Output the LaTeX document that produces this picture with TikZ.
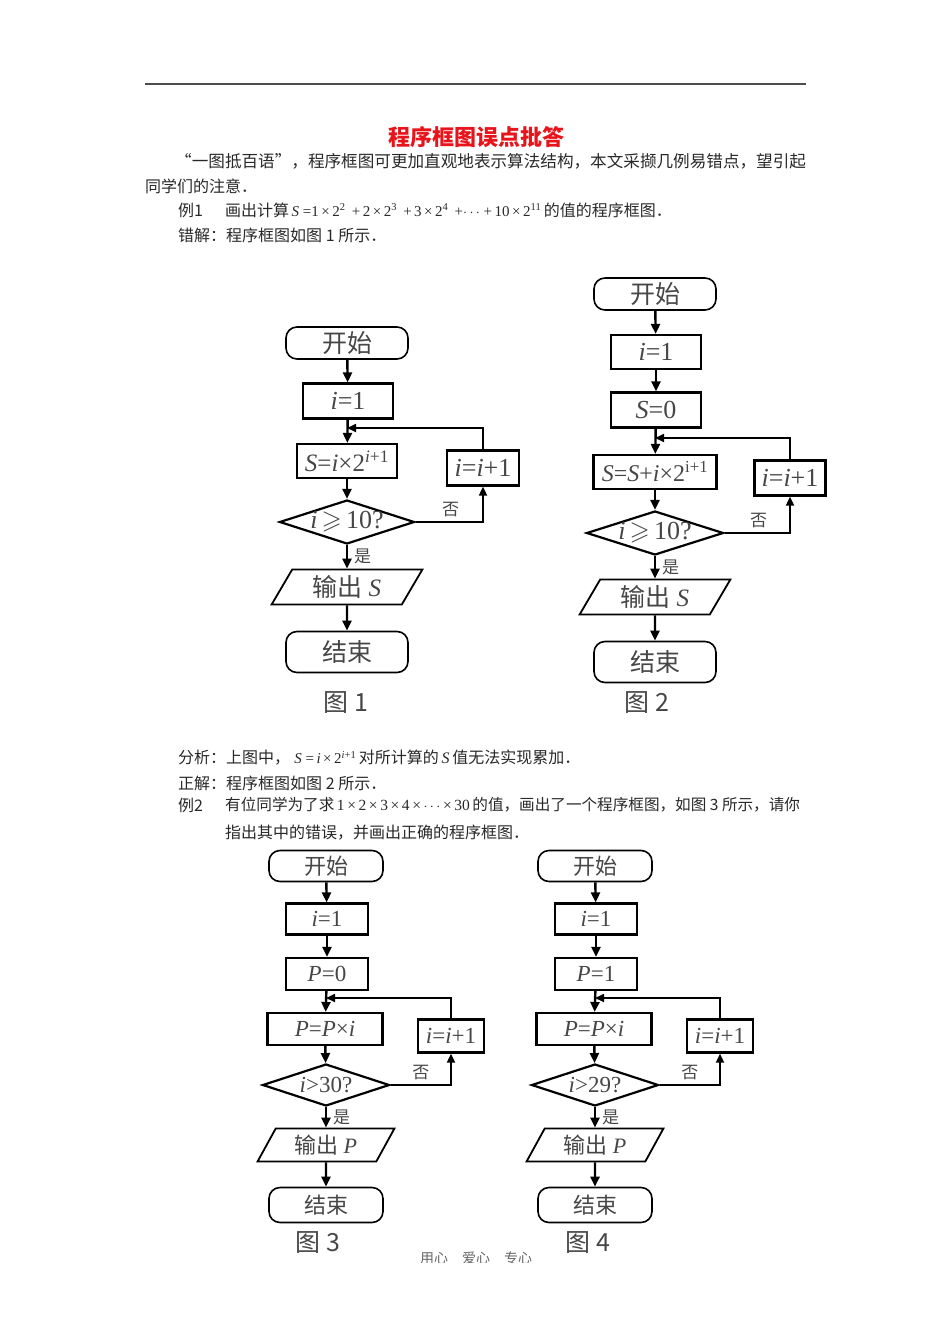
\documentclass[tikz,border=0pt]{standalone}
\usepackage{amssymb}
\usepackage{fontspec}
\setmainfont{Liberation Serif}
\newfontfamily\cjk{Noto Sans CJK SC}
\usetikzlibrary{shapes.geometric, arrows.meta, positioning}
\definecolor{titlered}{RGB}{232,20,27}
\definecolor{chartgray}{RGB}{70,70,70}
\definecolor{bodygray}{RGB}{40,40,40}
\newcommand{\zerobox}[1]{\makebox[0pt]{#1}}
\newcommand{\lat}[1]{{\rmfamily #1}}

\begin{document}
\begin{tikzpicture}[
    x=1pt, y=-1pt,
    every node/.style={inner sep=0pt},
    term/.style n args={2}{rectangle, draw, rounded corners=11pt, line width=1.6pt, minimum width=#1, minimum height=#2, font=\cjk\fontsize{25}{25}\selectfont, text=chartgray},
    procbox/.style n args={2}{rectangle, draw, line width=2.2pt, minimum width=#1, minimum height=#2, font=\fontsize{26}{26}\selectfont, text=chartgray},
    decision/.style n args={2}{diamond, draw, line width=2.2pt, minimum width=#1, minimum height=#2, font=\fontsize{26}{26}\selectfont, text=chartgray},
    io/.style n args={2}{trapezium, trapezium left angle=61, trapezium right angle=119, trapezium stretches, draw, line width=1.8pt, minimum width=#1, minimum height=#2, font=\cjk\fontsize{25}{25}\selectfont, text=chartgray},
    small/.style={font=\cjk\fontsize{22}{22}\selectfont},
    smallmath/.style={font=\fontsize{23}{23}\selectfont},
    flow/.style={-{Triangle[length=10pt,width=9pt]}, line width=2.4pt},
    back/.style={-{Triangle[length=9pt,width=8pt]}, line width=1.7pt},
    tag/.style={font=\cjk\fontsize{17}{17}\selectfont, text=chartgray},
    caption/.style={font=\cjk\fontsize{25}{25}\selectfont, text=chartgray},
    body/.style={anchor=west, font=\cjk\fontsize{16}{16}\selectfont, text=bodygray}
]
\useasboundingbox (0,0) rectangle (950,1344);

% Page header
\draw[line width=1.2pt, black!70] (145,84) -- (806,84);
\node[font=\cjk\bfseries\fontsize{22}{22}\selectfont, text=titlered] (title) at (476,137) {程序框图误点批答};
\node[body, font=\cjk\fontsize{16.6}{16.6}\selectfont] (line1) at (175,161) {“一图抵百语”，程序框图可更加直观地表示算法结构，本文采撷几例易错点，望引起};
\node[body] (line2) at (145,186) {同学们的注意．};
\node[body] (ex1) at (178,210) {例1};
\node[body] (task1) at (225,210) {画出计算\lat{\fontsize{15}{15}\selectfont\,\textit{S} =1\,×\,2\textsuperscript{2} \,+\,2\,×\,2\textsuperscript{3} \,+\,3\,×\,2\textsuperscript{4} \,+$\cdots$ +\,10\,×\,2\textsuperscript{11}}\,的值的程序框图．};
\node[body] (wrong1) at (178,235) {错解：程序框图如图 1 所示．};

% Figure 1
\node[term={122pt}{32pt}] (start1) at (347,343) {开始};
\node[procbox={90pt}{35pt}] (init1) at (348,401) {\textit{i}=1};
\node[procbox={100pt}{34pt}, font=\fontsize{25}{25}\selectfont] (sum1) at (347,461) {\textit{S}=\textit{i}×2\textsuperscript{\textit{i}+1}};
\node[procbox={72pt}{35pt}] (inc1) at (483,468) {\textit{i}=\textit{i}+1};
\node[decision={135pt}{44pt}] (test1) at (347,522) {\zerobox{\textit{i}$\,\geqslant\,$10?}};
\node[io={152pt}{35pt}] (out1) at (347,587) {输出 \lat{\textit{S}}};
\node[term={122pt}{41pt}] (stop1) at (347,652) {结束};
\node[caption] (cap1) at (346,703) {图 1};
\coordinate (join1) at (347,428);

\draw[flow] (start1) -- (init1);
\draw[flow] (init1) -- (sum1);
\draw[flow] (sum1) -- (test1);
\draw[flow] (test1) -- node[tag, right=6pt] {是} (out1);
\draw[flow] (out1) -- (stop1);
\draw[back] (test1.east) -| node[tag, pos=0.26, above=4pt] {否} (inc1.south);
\draw[back] (inc1.north) |- (join1);

% Figure 2
\node[term={122pt}{32pt}] (start2) at (655,294) {开始};
\node[procbox={90pt}{34pt}] (init2) at (656,352) {\textit{i}=1};
\node[procbox={90pt}{35pt}] (zero2) at (656,410) {\textit{S}=0};
\node[procbox={123pt}{34pt}, font=\fontsize{24}{24}\selectfont] (sum2) at (655,472) {\textit{S}=\textit{S}+\textit{i}×2\textsuperscript{i+1}};
\node[procbox={71pt}{35pt}] (inc2) at (790,478) {\textit{i}=\textit{i}+1};
\node[decision={137pt}{44pt}] (test2) at (655,533) {\zerobox{\textit{i}$\,\geqslant\,$10?}};
\node[io={152pt}{35pt}] (out2) at (655,597) {输出 \lat{\textit{S}}};
\node[term={122pt}{41pt}] (stop2) at (655,662) {结束};
\node[caption] (cap2) at (647,703) {图 2};
\coordinate (join2) at (655,438);

\draw[flow] (start2) -- (init2);
\draw[flow] (init2) -- (zero2);
\draw[flow] (zero2) -- (sum2);
\draw[flow] (sum2) -- (test2);
\draw[flow] (test2) -- node[tag, right=6pt] {是} (out2);
\draw[flow] (out2) -- (stop2);
\draw[back] (test2.east) -| node[tag, pos=0.26, above=4pt] {否} (inc2.south);
\draw[back] (inc2.north) |- (join2);

% Analysis and example 2
\node[body] (note1) at (178,758) {分析：上图中，\lat{\fontsize{15}{15}\selectfont\;\textit{S} =\,\textit{i}\,×\,2\textsuperscript{\textit{i}+1}}\,对所计算的\lat{\,\textit{S}\,}值无法实现累加．};
\node[body] (right1) at (178,783) {正解：程序框图如图 2 所示．};
\node[body] (ex2) at (178,805) {例2};
\node[body, font=\cjk\fontsize{15.6}{15.6}\selectfont] (task2) at (225,805) {有位同学为了求\lat{\fontsize{15.5}{15.5}\selectfont\,1\,×\,2\,×\,3\,×\,4\,×\,$\cdots$\,×\,30\,}的值，画出了一个程序框图，如图 3 所示，请你};
\node[body] (task2b) at (225,833) {指出其中的错误，并画出正确的程序框图．};

% Figure 3
\node[term={114pt}{31pt}, small] (start3) at (326,866) {开始};
\node[procbox={82pt}{31pt}, smallmath] (init3) at (327,919) {\textit{i}=1};
\node[procbox={82pt}{32pt}, smallmath] (zero3) at (327,974) {\textit{P}=0};
\node[procbox={115pt}{32pt}, smallmath] (prod3) at (325,1029) {\textit{P}=\textit{P}×\textit{i}};
\node[procbox={66pt}{33pt}, smallmath] (inc3) at (451,1036) {\textit{i}=\textit{i}+1};
\node[decision={127pt}{42pt}, smallmath] (test3) at (326,1085) {\zerobox{\textit{i}>30?}};
\node[io={138pt}{33pt}, small] (out3) at (326,1145) {输出 \lat{\textit{P}}};
\node[term={114pt}{35pt}, small] (stop3) at (326,1205) {结束};
\node[caption] (cap3) at (318,1243) {图 3};
\coordinate (join3) at (326,998);

\draw[flow] (start3) -- (init3);
\draw[flow] (init3) -- (zero3);
\draw[flow] (zero3) -- (prod3);
\draw[flow] (prod3) -- (test3);
\draw[flow] (test3) -- node[tag, right=6pt] {是} (out3);
\draw[flow] (out3) -- (stop3);
\draw[back] (test3.east) -| node[tag, pos=0.25, above=4pt] {否} (inc3.south);
\draw[back] (inc3.north) |- (join3);

% Figure 4
\node[term={114pt}{31pt}, small] (start4) at (595,866) {开始};
\node[procbox={82pt}{31pt}, smallmath] (init4) at (596,919) {\textit{i}=1};
\node[procbox={82pt}{32pt}, smallmath] (one4) at (596,974) {\textit{P}=1};
\node[procbox={115pt}{32pt}, smallmath] (prod4) at (594,1029) {\textit{P}=\textit{P}×\textit{i}};
\node[procbox={66pt}{33pt}, smallmath] (inc4) at (720,1036) {\textit{i}=\textit{i}+1};
\node[decision={127pt}{42pt}, smallmath] (test4) at (595,1085) {\zerobox{\textit{i}>29?}};
\node[io={138pt}{33pt}, small] (out4) at (595,1145) {输出 \lat{\textit{P}}};
\node[term={114pt}{35pt}, small] (stop4) at (595,1205) {结束};
\node[caption] (cap4) at (588,1243) {图 4};
\coordinate (join4) at (595,998);

\draw[flow] (start4) -- (init4);
\draw[flow] (init4) -- (one4);
\draw[flow] (one4) -- (prod4);
\draw[flow] (prod4) -- (test4);
\draw[flow] (test4) -- node[tag, right=6pt] {是} (out4);
\draw[flow] (out4) -- (stop4);
\draw[back] (test4.east) -| node[tag, pos=0.25, above=4pt] {否} (inc4.south);
\draw[back] (inc4.north) |- (join4);

% Footer, cut off
\begin{scope}
\clip (400,1240) rectangle (560,1262);
\node[font=\cjk\fontsize{14}{14}\selectfont, text=black!60] (footer) at (476,1258) {用心\quad 爱心\quad 专心};
\end{scope}
\end{tikzpicture}
\end{document}
